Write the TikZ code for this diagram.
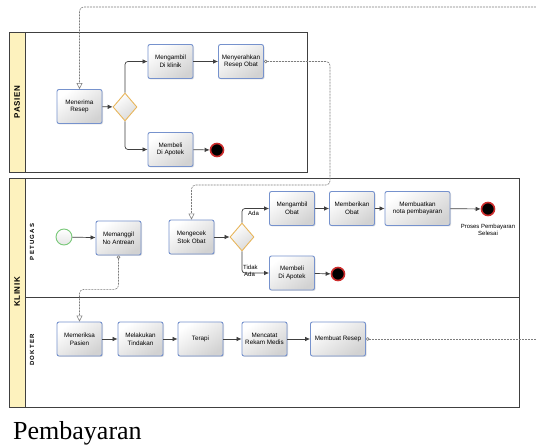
\documentclass[tikz,border=0pt]{standalone}
\usepackage{fontspec}
\setmainfont{Liberation Sans}
\newfontfamily\capfont{Liberation Serif}
\usetikzlibrary{arrows.meta,shadows,shapes.geometric}
\definecolor{taskblue}{RGB}{118,146,205}
\definecolor{gwor}{RGB}{232,182,92}
\definecolor{endred}{RGB}{205,45,45}
\definecolor{startgreen}{RGB}{120,200,120}
\definecolor{bandyellow}{RGB}{253,242,190}
\definecolor{poolline}{RGB}{64,64,64}
\definecolor{msggray}{RGB}{125,125,125}
\tikzset{
  task/.style={rectangle, rounded corners=2pt, draw=taskblue, line width=0.9pt,
    minimum width=45pt, minimum height=34pt, inner sep=1pt, align=center,
    top color=white, bottom color=gray!35, shading angle=35,
    drop shadow={shadow xshift=1pt, shadow yshift=-1pt, opacity=0.25},
    font=\fontsize{6.3}{7.6}\selectfont},
  gateway/.style={diamond, draw=gwor, line width=0.9pt, minimum width=24pt,
    minimum height=28pt, inner sep=0pt, top color=white, bottom color=gray!30, shading angle=35},
  endev/.style={circle, fill=black, draw=endred, line width=1.6pt, minimum size=13pt, inner sep=0pt},
  startev/.style={circle, draw=startgreen, line width=0.9pt, minimum size=16pt, inner sep=0pt,
    top color=white, bottom color=gray!20},
  flow/.style={draw=poolline, line width=0.7pt, rounded corners=3pt, -{Latex[length=5pt,width=4.5pt]}},
  msg/.style={draw=msggray, line width=0.6pt, dash pattern=on 2pt off 1pt, rounded corners=4pt,
    {Circle[open,length=3.5pt,fill=white]}-{Triangle[open,length=6pt,width=6pt,fill=white]}},
  msgin/.style={draw=msggray, line width=0.6pt, dash pattern=on 2pt off 1pt, rounded corners=4pt,
    -{Triangle[open,length=6pt,width=6pt,fill=white]}},
  msgout/.style={draw=msggray, line width=0.6pt, dash pattern=on 2pt off 1pt,
    {Circle[open,length=3.5pt,fill=white]}-},
  pool/.style={draw=poolline, line width=0.9pt},
  band/.style={draw=poolline, line width=0.9pt, fill=bandyellow},
  poollabel/.style={rotate=90, font=\bfseries\fontsize{8}{9}\selectfont\addfontfeature{LetterSpace=8}},
  lanelabel/.style={rotate=90, font=\bfseries\fontsize{6}{7}\selectfont\addfontfeature{LetterSpace=20}},
  small/.style={font=\fontsize{6}{7}\selectfont, inner sep=0pt, align=center}
}
\begin{document}
\begin{tikzpicture}[x=1pt,y=-1pt]
\useasboundingbox[fill=white] (0,0) rectangle (536,446);
% pools
\draw[pool] (9,32) rectangle (307,172);
\draw[band] (9,32) rectangle (25,172);
\draw[pool] (9,178) rectangle (519,407);
\draw[band] (9,178) rectangle (25,407);
\draw[pool] (25,297) -- (519,297);
\node[poollabel] at (17,102) {PASIEN};
\node[poollabel] at (17,292) {KLINIK};
\node[lanelabel] at (32,242) {PETUGAS};
\node[lanelabel] at (32,350) {DOKTER};

% PASIEN lane
\node[task] (t1) at (79.5,106.5) {Menerima\\Resep};
\node[gateway] (g1) at (125,107) {};
\node[task] (t2) at (170.5,61.5) {Mengambil\\Di klinik};
\node[task] (t3) at (241,61.5) {Menyerahkan\\Resep Obat};
\node[task] (t4) at (170.5,149.5) {Membeli\\Di Apotek};
\node[endev] (e1) at (217,150) {};

% PETUGAS lane
\node[startev] (s1) at (64,237) {};
\node[task] (t6) at (118.5,238) {Memanggil\\No Antrean};
\node[task] (t5) at (191.5,237) {Mengecek\\Stok Obat};
\node[gateway] (g2) at (242,237) {};
\node[task] (t9) at (292,208.5) {Mengambil\\Obat};
\node[task] (t10) at (352,208.5) {Memberikan\\Obat};
\node[task, minimum width=65pt] (t11) at (417.5,208.5) {Membuatkan\\nota pembayaran};
\node[endev] (e2) at (488,209) {};
\node[small] (lblend) at (488,230) {Proses Pembayaran\\Selesai};
\node[task] (t12) at (292,273) {Membeli\\Di Apotek};
\node[endev] (e3) at (338,274) {};

% DOKTER lane
\node[task] (t8) at (79.5,339) {Memeriksa\\Pasien};
\node[task] (t13) at (140.5,339) {Melakukan\\Tindakan};
\node[task] (t14) at (200.5,339) {Terapi};
\node[task] (t15) at (264.5,339) {Mencatat\\Rekam Medis};
\node[task, minimum width=55pt] (t16) at (338,339) {Membuat Resep};

\coordinate (outtop) at (536,7);
\coordinate (outbot) at (536,339);

% sequence flows
\draw[flow] (t1) -- (g1);
\draw[flow] (g1.north) |- (t2.west);
\draw[flow] (g1.south) |- (t4.west);
\draw[flow] (t2) -- (t3);
\draw[flow] (t4) -- (e1);
\draw[flow] (s1) -- (t6);
\draw[flow] (t5) -- (g2);
\draw[flow] (g2.north) |- (t9.west);
\draw[flow] (g2.south) |- (t12.west);
\draw[flow] (t9) -- (t10);
\draw[flow] (t10) -- (t11);
\draw[flow] (t11) -- (e2);
\draw[flow] (t12) -- (e3);
\draw[flow] (t8) -- (t13);
\draw[flow] (t13) -- (t14);
\draw[flow] (t14) -- (t15);
\draw[flow] (t15) -- (t16);

\node[small, anchor=west] (lada) at (248,213) {Ada};
\node[small, anchor=north west, align=left] (ltidak) at (243,265) {Tidak\\\hspace*{1pt}Ada};

% message flows
\draw[msg] (t3.east) -| (330,185) -| (t5.north);
\draw[msg] (t6.south) -- ++(0,34) -| (t8.north);
\draw[msgout] (t16.east) -- (outbot);
\draw[msgin] (outtop) -| (t1.north);

% caption
\node[anchor=base west, inner sep=0pt, font=\capfont\fontsize{26}{28}\selectfont] (cap) at (13,440) {Pembayaran};
\end{tikzpicture}
\end{document}
